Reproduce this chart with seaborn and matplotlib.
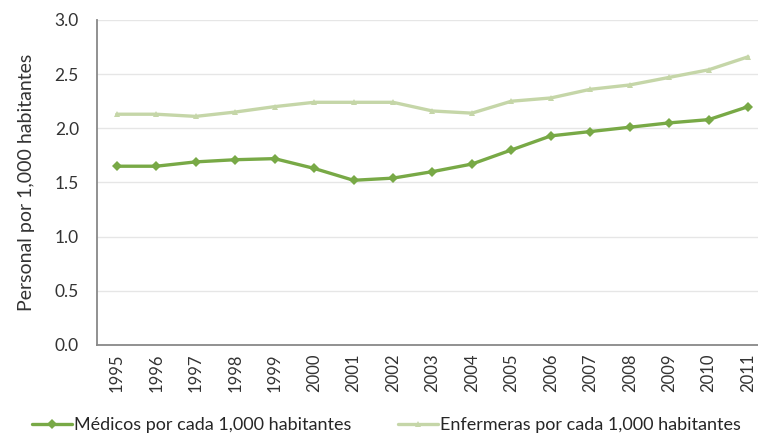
import matplotlib
matplotlib.use("Agg")
import matplotlib.pyplot as plt
import seaborn as sns
import pandas as pd
import numpy as np

years = [str(y) for y in range(1995, 2012)]
medicos = [1.65, 1.65, 1.69, 1.71, 1.72, 1.63, 1.52, 1.54, 1.60, 1.67, 1.80, 1.93, 1.97, 2.01, 2.05, 2.08, 2.20]
enfermeras = [2.13, 2.13, 2.11, 2.15, 2.20, 2.24, 2.24, 2.24, 2.16, 2.14, 2.25, 2.28, 2.36, 2.40, 2.47, 2.54, 2.66]
label_med = "Médicos por cada 1,000 habitantes"
label_enf = "Enfermeras por cada 1,000 habitantes"
ylabel = "Personal por 1,000 habitantes"

sns.set_style("white")
plt.rcParams['font.family'] = ['Lato', 'DejaVu Sans']

df = pd.DataFrame({"year": years * 2,
                   "value": medicos + enfermeras,
                   "serie": [label_med] * len(years) + [label_enf] * len(years)})

fig = plt.figure(figsize=(7.58, 4.40), dpi=100)
ax = fig.add_axes([0.128, 0.216, 0.885, 0.7386])

c_med = "#78a946"
c_enf = "#c5d6a8"
sns.lineplot(data=df, x="year", y="value", hue="serie", style="serie",
             palette={label_med: c_med, label_enf: c_enf},
             markers={label_med: "D", label_enf: "^"}, dashes=False,
             markersize=5, linewidth=2.4, markeredgewidth=0, ax=ax, legend=False,
             hue_order=[label_enf, label_med])

ax.set_xlim(-0.5, len(years) - 0.5)
ax.set_ylim(0, 3.0)
ax.set_yticks(np.arange(0, 3.01, 0.5))
ax.set_yticklabels([f"{v:.1f}" for v in np.arange(0, 3.01, 0.5)], fontsize=12.5, color="#333333")
ax.set_xticks(range(len(years)))
ax.set_xticklabels(years, rotation=90, fontsize=12, color="#333333")
ax.set_xticks(np.arange(-0.5, len(years)), minor=True)
ax.tick_params(axis="x", which="major", length=0, pad=6)
ax.tick_params(axis="x", which="minor", length=4, color="#888888")
ax.tick_params(axis="y", length=5, color="#888888", pad=8)
ax.yaxis.grid(True, color="#e6e6e6", linewidth=1)
ax.set_axisbelow(True)
for s in ["top", "right"]:
    ax.spines[s].set_visible(False)
for s in ["left", "bottom"]:
    ax.spines[s].set_color("#888888")
    ax.spines[s].set_linewidth(1.3)
ax.set_xlabel("")
ax.set_ylabel(ylabel, fontsize=14, color="#333333", labelpad=14)

from matplotlib.lines import Line2D
handles = [Line2D([], [], color=c_med, marker="D", markersize=5, lw=2.4, markeredgewidth=0),
           Line2D([], [], color=c_enf, marker="^", markersize=5, lw=2.4, markeredgewidth=0)]
fig.legend(handles, [label_med, label_enf], loc="center", bbox_to_anchor=(0.51, 0.033),
           ncol=2, frameon=False, fontsize=13, handlelength=2.2, handletextpad=0.1,
           columnspacing=2.6)

fig.savefig("out.png", dpi=100)
